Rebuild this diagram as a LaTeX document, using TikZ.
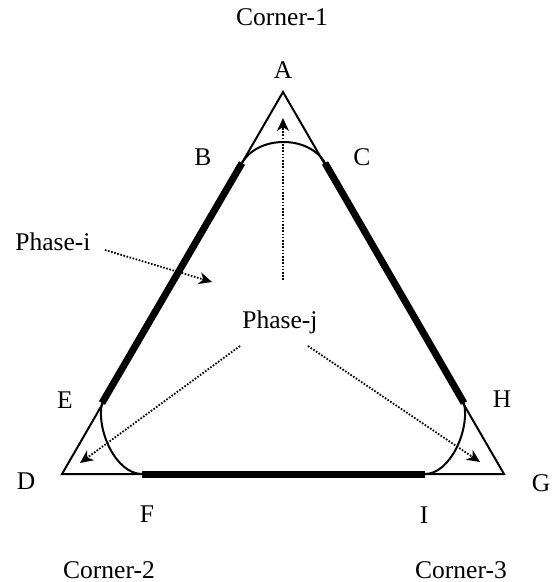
\documentclass[tikz,border=0pt]{standalone}
\usepackage{fontspec}
\setmainfont{Liberation Serif}
\usetikzlibrary{arrows.meta, calc}

\begin{document}
\begin{tikzpicture}[x=1pt, y=-1pt,
  edge/.style={line width=2pt, line join=miter},
  bound/.style={line width=7pt},
  flow/.style={line width=1.8pt, dash pattern=on 1.6pt off 1.6pt},
  head/.style={line width=1.5pt, solid, -{Stealth[length=13pt, width=12pt, inset=4pt]}},
  lbl/.style={font=\fontsize{25.5}{30}\selectfont, anchor=base, inner sep=0pt},
]
  \useasboundingbox (0,0) rectangle (555,582);
  % corners of the triangle
  \coordinate (A) at (283,92);
  \coordinate (D) at (62,474);
  \coordinate (G) at (504,474);
  % ends of the thick boundaries
  \coordinate (B) at (242,163);
  \coordinate (C) at (325,163);
  \coordinate (E) at (102,403);
  \coordinate (H) at (464,403);
  \coordinate (F) at (142,474);
  \coordinate (I) at (425,474);
  % outer triangle
  \draw[edge] (A) -- (D) -- (G) -- cycle;
  % thick sides
  \draw[bound] (B) -- (E);
  \draw[bound] (C) -- (H);
  \draw[bound] (F) -- (I);
  % curved corners
  \draw[edge] (B) .. controls (258,135) and (309,135) .. (C);
  \draw[edge] (E) .. controls (96,430) and (116,474) .. (F);
  \draw[edge] (H) .. controls (470,430) and (450,474) .. (I);
  % labels
  \node[lbl] (c1) at (282,25) {Corner-1};
  \node[lbl] (c2) at (109,578) {Corner-2};
  \node[lbl] (c3) at (461,578) {Corner-3};
  \node[lbl] (lA) at (283,78) {A};
  \node[lbl] (lB) at (203,165) {B};
  \node[lbl] (lC) at (362,165) {C};
  \node[lbl] (lE) at (65,408) {E};
  \node[lbl] (lH) at (502,407) {H};
  \node[lbl] (lD) at (26,489) {D};
  \node[lbl] (lG) at (541,491) {G};
  \node[lbl] (lF) at (147,522) {F};
  \node[lbl] (lI) at (424,523) {I};
  \node[lbl] (pi) at (53,250) {Phase-i};
  \node[lbl] (pj) at (280,328) {Phase-j};
  % ends of the dotted arrows
  \coordinate (pi0) at (105,250);
  \coordinate (pi1) at (212,282);
  \coordinate (pj0) at (283,280);
  \coordinate (pj1) at (283,118);
  \coordinate (pjl) at (240,346);
  \coordinate (pjr) at (308,346);
  \coordinate (tD) at (80,463);
  \coordinate (tG) at (480,462);
  % dotted arrows, solid heads
  \foreach \s/\t in {pi0/pi1, pj0/pj1, pjl/tD, pjr/tG} {
    \draw[flow] (\s) -- ($(\t)!8pt!(\s)$);
    \draw[head] ($(\t)!10pt!(\s)$) -- (\t);
  }
\end{tikzpicture}
\end{document}
